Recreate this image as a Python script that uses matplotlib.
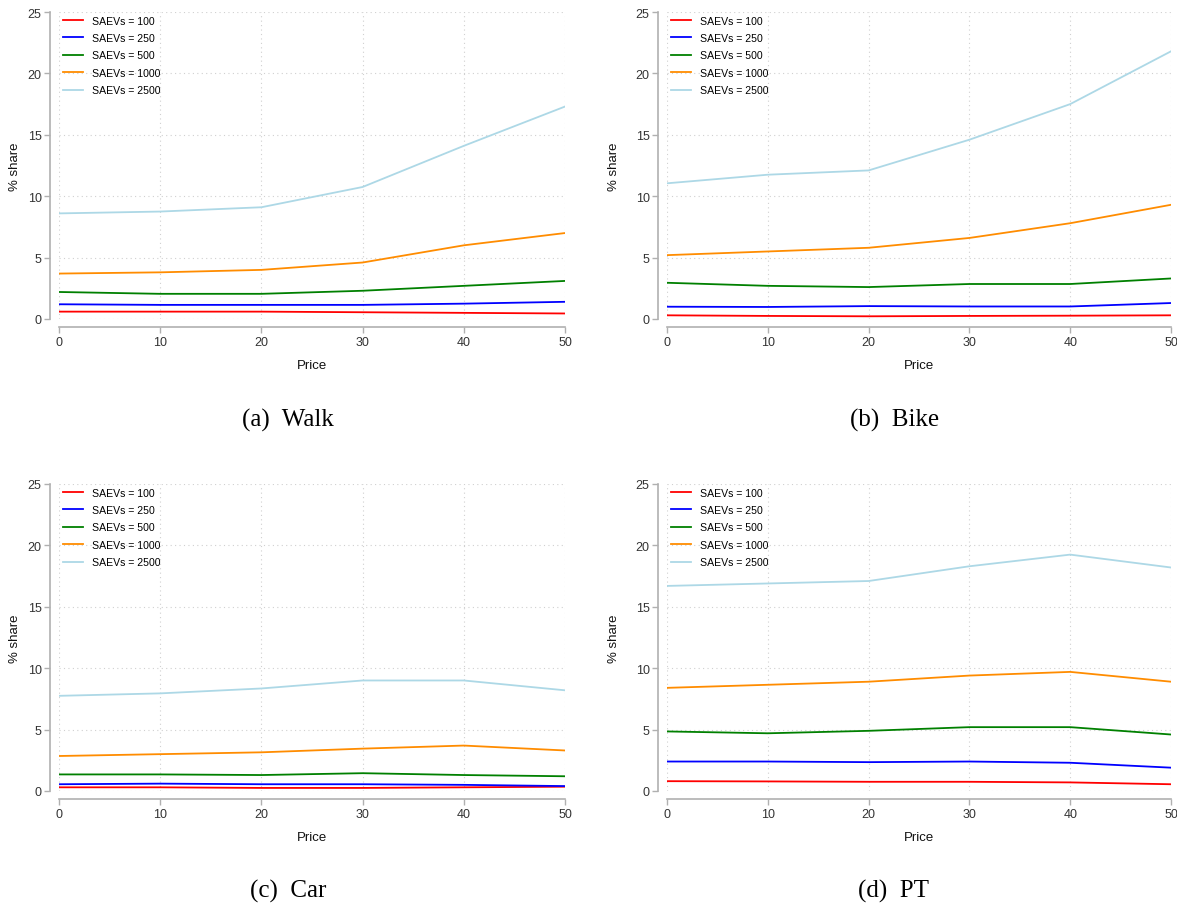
import matplotlib
matplotlib.use("Agg")
import matplotlib.pyplot as plt

prices = [0, 10, 20, 30, 40, 50]
fleet_labels = ["SAEVs = 100", "SAEVs = 250", "SAEVs = 500", "SAEVs = 1000", "SAEVs = 2500"]
colors = ["#ff0000", "#0000ff", "#008000", "#ff8c00", "#add8e6"]

walk_100 = [0.6, 0.6, 0.6, 0.55, 0.5, 0.45]
walk_250 = [1.2, 1.15, 1.15, 1.15, 1.25, 1.4]
walk_500 = [2.2, 2.05, 2.05, 2.3, 2.7, 3.1]
walk_1000 = [3.7, 3.8, 4.0, 4.6, 6.0, 7.0]
walk_2500 = [8.6, 8.75, 9.1, 10.75, 14.1, 17.3]

bike_100 = [0.3, 0.25, 0.22, 0.25, 0.27, 0.3]
bike_250 = [1.0, 0.98, 1.05, 1.02, 1.02, 1.3]
bike_500 = [2.95, 2.7, 2.6, 2.85, 2.85, 3.3]
bike_1000 = [5.2, 5.5, 5.8, 6.6, 7.8, 9.3]
bike_2500 = [11.05, 11.75, 12.1, 14.6, 17.5, 21.8]

car_100 = [0.3, 0.3, 0.25, 0.25, 0.3, 0.35]
car_250 = [0.55, 0.6, 0.55, 0.55, 0.5, 0.4]
car_500 = [1.35, 1.35, 1.3, 1.45, 1.3, 1.2]
car_1000 = [2.85, 3.0, 3.15, 3.45, 3.7, 3.3]
car_2500 = [7.75, 7.95, 8.35, 9.0, 9.0, 8.2]

pt_100 = [0.8, 0.78, 0.75, 0.75, 0.7, 0.55]
pt_250 = [2.4, 2.4, 2.35, 2.4, 2.3, 1.9]
pt_500 = [4.85, 4.7, 4.9, 5.2, 5.2, 4.6]
pt_1000 = [8.4, 8.65, 8.9, 9.4, 9.7, 8.9]
pt_2500 = [16.7, 16.9, 17.1, 18.3, 19.25, 18.2]

panels = [
    ("(a)  Walk", [walk_100, walk_250, walk_500, walk_1000, walk_2500]),
    ("(b)  Bike", [bike_100, bike_250, bike_500, bike_1000, bike_2500]),
    ("(c)  Car", [car_100, car_250, car_500, car_1000, car_2500]),
    ("(d)  PT", [pt_100, pt_250, pt_500, pt_1000, pt_2500]),
]

plt.rcParams["font.family"] = ["Liberation Sans", "DejaVu Sans"]

W, H = 1177, 904
fig = plt.figure(figsize=(W / 100, H / 100), dpi=100)

# pixel boxes: (x at price 0, x at price 50, y at 0 %, y at 25 %)
boxes = [
    (59, 565, 320, 13),
    (667, 1171, 320, 13),
    (59, 565, 792, 485),
    (667, 1171, 792, 485),
]
ylabel_x = [21, 620, 21, 620]
cap_pos = [(288, 420), (895, 420), (288, 891), (893, 891)]

spine_col = "#b0b0b0"
for (title, series), (x0, x1, yb, yt), lx, (cx, cy) in zip(panels, boxes, ylabel_x, cap_pos):
    aw = x1 - x0
    ah = yb - yt
    ax = fig.add_axes([x0 / W, 1 - yb / H, aw / W, ah / H])
    for vals, lab, c in zip(series, fleet_labels, colors):
        ax.plot(prices, vals, color=c, lw=1.3, label=lab)
    ax.set_xlim(0, 50)
    ax.set_ylim(0, 25)
    ax.set_xticks(prices)
    ax.set_yticks([0, 5, 10, 15, 20, 25])
    ax.grid(True, ls=(0, (1, 3)), color="#d0d0d0", lw=0.8)
    ax.set_axisbelow(True)
    for s in ["top", "right"]:
        ax.spines[s].set_visible(False)
    for s in ["left", "bottom"]:
        ax.spines[s].set_color(spine_col)
        ax.spines[s].set_linewidth(1.2)
    ax.spines["left"].set_position(("outward", 6.5))
    ax.spines["bottom"].set_position(("outward", 6))
    ax.tick_params(colors=spine_col, labelcolor="#333333", labelsize=9, length=4, width=1, pad=2)
    ax.set_xlabel("Price", fontsize=9.5, color="#111111")
    ax.xaxis.set_label_coords(0.5, -40 / ah)
    ax.set_ylabel("% share", fontsize=9.5, color="#111111")
    ax.yaxis.set_label_coords((lx - x0) / aw, 0.5)
    ax.legend(loc="upper left", frameon=False, fontsize=7.6, handlelength=1.9,
              handletextpad=0.9, borderaxespad=0.0, borderpad=0.35, labelspacing=0.7,
              bbox_to_anchor=(0.0, 1.0))
    fig.text(cx / W, 1 - cy / H, title, ha="center", va="center",
             fontsize=18, family=["Liberation Serif", "DejaVu Serif"])

fig.savefig("out.png", dpi=100)
